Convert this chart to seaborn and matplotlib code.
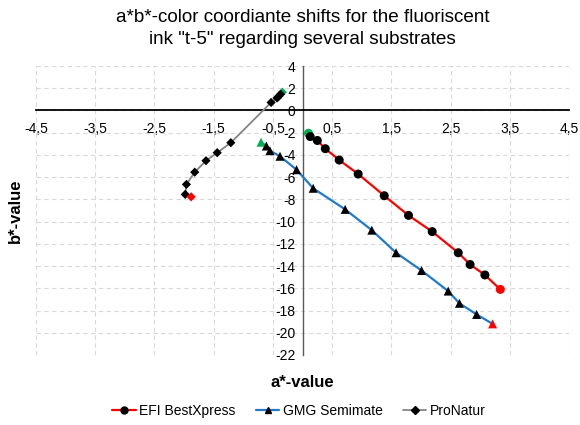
import matplotlib
matplotlib.use("Agg")
import matplotlib.pyplot as plt
from matplotlib.lines import Line2D
from matplotlib.ticker import FixedLocator
import seaborn as sns
import pandas as pd

# a*/b* coordinates per substrate (first point = start, last point = end)
efi_a = [0.10, 0.13, 0.25, 0.385, 0.62, 0.94, 1.38, 1.79, 2.19, 2.63, 2.83, 3.08, 3.34]
efi_b = [-2.05, -2.35, -2.7, -3.44, -4.46, -5.72, -7.67, -9.44, -10.9, -12.8, -13.86, -14.8, -16.1]

gmg_a = [-0.70, -0.61, -0.55, -0.38, -0.10, 0.18, 0.72, 1.17, 1.58, 2.01, 2.46, 2.65, 2.94, 3.21]
gmg_b = [-2.86, -3.2, -3.62, -4.12, -5.33, -7.0, -8.9, -10.77, -12.8, -14.4, -16.25, -17.35, -18.35, -19.2]

pro_a = [-0.34, -0.37, -0.40, -0.43, -0.53, -1.21, -1.44, -1.63, -1.82, -1.96, -1.98, -1.88]
pro_b = [1.64, 1.46, 1.28, 1.12, 0.72, -2.9, -3.8, -4.52, -5.55, -6.65, -7.55, -7.77]

series_names = ["EFI BestXpress", "GMG Semimate", "ProNatur"]
x_ticks = [-4.5, -3.5, -2.5, -1.5, -0.5, 0.5, 1.5, 2.5, 3.5, 4.5]
y_ticks = [4, 2, 0, -2, -4, -6, -8, -10, -12, -14, -16, -18, -20, -22]

sns.set_theme(style="white")
plt.rcParams["font.family"] = ["Liberation Sans", "DejaVu Sans"]
plt.rcParams["axes.unicode_minus"] = False

fig = plt.figure(figsize=(5.8, 4.25), dpi=100)
ax = fig.add_axes([36 / 580, 1 - 355 / 425, 533 / 580, 289 / 425])

line_colors = ["#FF0000", "#1F7BC8", "#858585"]
markers = ["o", "^", "D"]
msizes = [42, 42, 22]
lwidths = [1.6, 1.6, 1.3]
point_palette = {"start": "#00B050", "mid": "black", "end": "#FF0000"}

data = [(efi_a, efi_b), (gmg_a, gmg_b), (pro_a, pro_b)]
for (xa, yb), name, col, mk, ms, lw in zip(data, series_names, line_colors, markers, msizes, lwidths):
    n = len(xa)
    role = ["start"] + ["mid"] * (n - 2) + ["end"]
    df = pd.DataFrame({"a": xa, "b": yb, "role": role})
    sns.lineplot(data=df, x="a", y="b", sort=False, estimator=None, color=col,
                 linewidth=lw, ax=ax, zorder=3)
    sns.scatterplot(data=df, x="a", y="b", hue="role", palette=point_palette,
                    marker=mk, s=ms, linewidth=0, legend=False, ax=ax, zorder=4)

ax.set_xlim(-4.5, 4.5)
ax.set_ylim(-22, 4)
ax.xaxis.set_major_locator(FixedLocator(x_ticks))
ax.yaxis.set_major_locator(FixedLocator(y_ticks))
ax.set_xticklabels([f"{v:g}".replace(".", ",") for v in x_ticks])
ax.set_yticklabels([f"{v:g}" for v in y_ticks])
ax.tick_params(axis="both", length=0, labelsize=10, colors="#000000")
ax.tick_params(axis="x", pad=8.5)
ax.tick_params(axis="y", pad=5)

ax.grid(True, color="#D9D9D9", linestyle=(0, (4, 3)), linewidth=0.8)
ax.set_axisbelow(True)

for side in ["top", "right"]:
    ax.spines[side].set_visible(False)
ax.spines["bottom"].set_position(("data", 0))
ax.spines["bottom"].set_color("black")
ax.spines["bottom"].set_linewidth(1.3)
ax.spines["bottom"].set_zorder(2)
ax.spines["left"].set_position(("data", 0))
ax.spines["left"].set_color("#595959")
ax.spines["left"].set_linewidth(1.0)
ax.spines["left"].set_zorder(2)

ax.set_xlabel("a*-value", fontsize=12, fontweight="bold", color="black")
ax.set_ylabel("b*-value", fontsize=12, fontweight="bold", color="black")
ax.xaxis.set_label_coords(0.5, -0.068)
ax.yaxis.set_label_coords(-0.024, 0.5)

fig.text(302.5 / 580, 1 - 28.5 / 425,
         'a*b*-color coordiante shifts for the fluoriscent\nink "t-5" regarding several substrates',
         ha="center", va="center", fontsize=13.6, linespacing=1.42, color="black")

handles = [Line2D([0], [0], color=c, lw=lw, marker=m, markersize=s,
                  markerfacecolor="black", markeredgecolor="black")
           for c, m, s, lw in zip(line_colors, markers, [5.0, 4.8, 4.0], lwidths)]
leg = fig.legend(handles, series_names, loc="center", bbox_to_anchor=(299 / 580, 1 - 411 / 425),
                 ncol=3, frameon=False, fontsize=10, handlelength=1.7, columnspacing=1.45,
                 handletextpad=0.25)
for t in leg.get_texts():
    t.set_color("black")

fig.savefig("out.png", dpi=100)
